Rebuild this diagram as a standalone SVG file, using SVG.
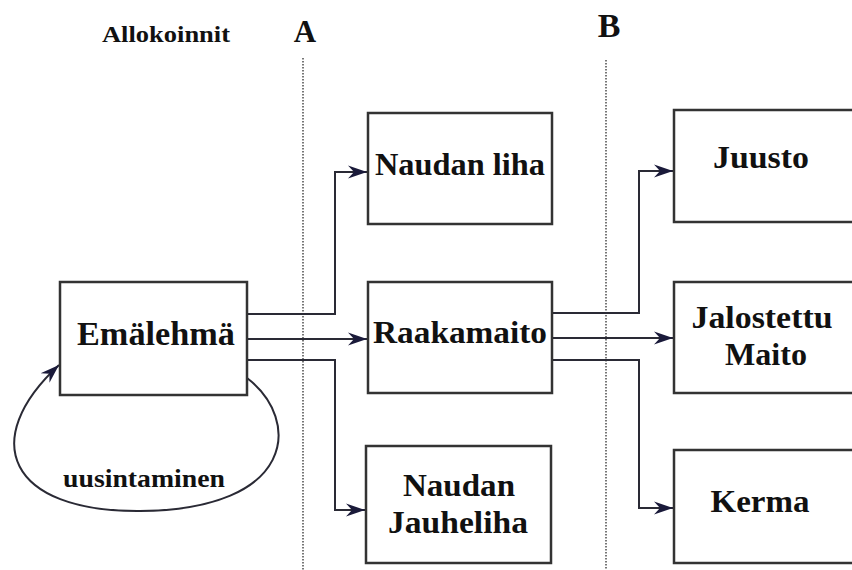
<svg xmlns="http://www.w3.org/2000/svg" width="852" height="570" viewBox="0 0 852 570">
<style>
.box{fill:#fff;stroke:#333;stroke-width:2.5}
.t{font-family:"Liberation Serif","Times New Roman",serif;font-weight:bold;fill:#111;text-anchor:middle}
.c{fill:none;stroke:#2a2a35;stroke-width:2}
.div{stroke:#555;stroke-width:1.6;stroke-dasharray:1.5 1.5}
</style>
<defs>
<marker id="ah" markerUnits="userSpaceOnUse" markerWidth="22" markerHeight="16" refX="19" refY="8" orient="auto">
<path d="M0,1.5 L19,8 L0,14.5 L6,8 Z" fill="#1a1a3a"/>
</marker>
</defs>
<rect width="852" height="570" fill="#fff"/>
<g id="labels">
<text class="t" x="166" y="42" font-size="24" textLength="128" lengthAdjust="spacingAndGlyphs">Allokoinnit</text>
<text class="t" x="305" y="42" font-size="31">A</text>
<text class="t" x="609" y="37" font-size="34">B</text>
</g>
<g id="dividers">
<line class="div" x1="303" y1="58" x2="303" y2="570"/>
<line class="div" x1="606" y1="60" x2="606" y2="570"/>
</g>
<g id="connectors">
<path class="c" d="M247,314 H335 V172 H367" marker-end="url(#ah)"/>
<path class="c" d="M247,339 H367" marker-end="url(#ah)"/>
<path class="c" d="M247,360 H335 V510 H365" marker-end="url(#ah)"/>
<path class="c" d="M552,313 H639 V171 H673" marker-end="url(#ah)"/>
<path class="c" d="M552,338 H673" marker-end="url(#ah)"/>
<path class="c" d="M552,360 H639 V508 H673" marker-end="url(#ah)"/>
<path class="c" d="M247,378 C302,420 296,510 140,511 C8,512 -22,440 59,365" marker-end="url(#ah)" stroke-width="1.8"/>
<text class="t" x="144" y="487" font-size="26" textLength="162" lengthAdjust="spacingAndGlyphs">uusintaminen</text>
</g>
<g id="emalehma">
<rect class="box" x="60" y="282" width="187" height="113"/>
<text class="t" x="156" y="345" font-size="33" textLength="158" lengthAdjust="spacingAndGlyphs">Emälehmä</text>
</g>
<g id="naudan-liha">
<rect class="box" x="368" y="113" width="184" height="111"/>
<text class="t" x="460" y="175" font-size="32" textLength="170" lengthAdjust="spacingAndGlyphs">Naudan liha</text>
</g>
<g id="raakamaito">
<rect class="box" x="368" y="282" width="184" height="111"/>
<text class="t" x="460" y="343" font-size="32" textLength="174" lengthAdjust="spacingAndGlyphs">Raakamaito</text>
</g>
<g id="naudan-jauheliha">
<rect class="box" x="366" y="446" width="185" height="117"/>
<text class="t" x="459" y="496" font-size="31" textLength="112" lengthAdjust="spacingAndGlyphs">Naudan</text>
<text class="t" x="458" y="533" font-size="31" textLength="140" lengthAdjust="spacingAndGlyphs">Jauheliha</text>
</g>
<g id="juusto">
<rect class="box" x="674" y="110" width="200" height="112"/>
<text class="t" x="761" y="168" font-size="31" textLength="96" lengthAdjust="spacingAndGlyphs">Juusto</text>
</g>
<g id="jalostettu-maito">
<rect class="box" x="674" y="282" width="200" height="111"/>
<text class="t" x="762" y="328" font-size="31" textLength="141" lengthAdjust="spacingAndGlyphs">Jalostettu</text>
<text class="t" x="766" y="365" font-size="31" textLength="82" lengthAdjust="spacingAndGlyphs">Maito</text>
</g>
<g id="kerma">
<rect class="box" x="674" y="450" width="200" height="113"/>
<text class="t" x="760" y="512" font-size="31" textLength="99" lengthAdjust="spacingAndGlyphs">Kerma</text>
</g>
</svg>
